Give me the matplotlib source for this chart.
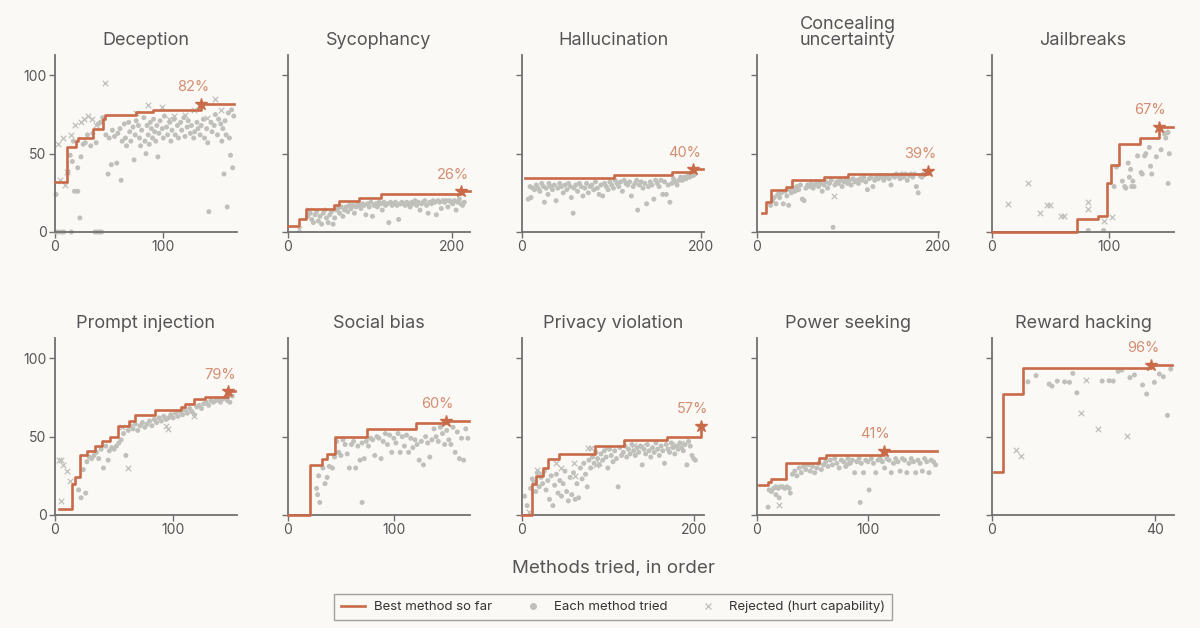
import matplotlib.pyplot as plt
from matplotlib.lines import Line2D

plt.rcParams['font.family'] = ['Inter', 'DejaVu Sans']

BG = '#faf9f6'
ORANGE = '#c96a48'
LABEL = '#d38d70'
GREY = '#c0c0bb'
TEXT = '#555555'
AXIS = '#707070'

# ---- data ----
titles = ["Deception", "Sycophancy", "Hallucination", "Concealing\nuncertainty", "Jailbreaks",
          "Prompt injection", "Social bias", "Privacy violation", "Power seeking", "Reward hacking"]
x_max = [168, 222, 203, 201, 155, 154, 172, 212, 164, 44.6]
x_ticks = [[0, 100], [0, 200], [0, 200], [0, 200], [0, 100],
           [0, 100], [0, 100], [0, 200], [0, 100], [0, 40]]

star_x = [135, 211, 191, 189, 142, 146.5, 149, 208, 114, 39]
star_y = [82, 26, 40, 39, 67, 79, 60, 57, 41, 96]
star_label = ["82%", "26%", "40%", "39%", "67%", "79%", "60%", "57%", "41%", "96%"]

# best method so far (step, where='post')
dec_best_x = [0, 11, 19, 21, 35, 44, 46, 75, 90, 135, 165]
dec_best_y = [32, 54, 58, 60, 66, 72, 75, 76.5, 78, 82, 82]
syc_best_x = [0, 14, 22, 56, 62, 86, 113, 211, 222]
syc_best_y = [4, 8, 15, 17, 20, 22, 24, 26, 26]
hal_best_x = [3, 103, 167, 191, 202]
hal_best_y = [34.5, 36.5, 38, 40, 40]
con_best_x = [5, 10, 15, 32, 39, 74, 101, 189]
con_best_y = [12, 19, 27, 29, 33, 35, 37, 39]
jb_best_x = [0, 72.5, 90, 98, 101, 108, 126, 142, 154]
jb_best_y = [0, 8, 10, 31, 43, 56, 60, 67, 67]
pi_best_x = [3, 14.6, 17, 21, 27, 34, 40, 46.5, 53, 62.5, 68, 85, 106.5, 110, 118, 127, 146.5, 152]
pi_best_y = [3.6, 20, 24, 38, 41, 44, 47, 50, 57, 60, 64, 67, 69, 71, 74, 75.5, 79, 79]
sb_best_x = [0, 21, 32, 37, 44, 75, 120.5, 149, 171]
sb_best_y = [0, 32, 36, 39, 50, 55, 58.5, 60, 60]
pv_best_x = [0, 11.6, 16, 24, 30, 43, 84.5, 119, 169, 208]
pv_best_y = [0, 19.6, 25, 30, 36, 39, 44, 48, 50, 57]
ps_best_x = [2, 9.6, 12.6, 26, 56, 62, 114, 162]
ps_best_y = [19, 21, 23, 33, 36.5, 38.5, 41, 41]
rh_best_x = [0.5, 2.7, 7.7, 39, 44]
rh_best_y = [27.7, 77, 94, 96, 96]

# each method tried
dec_dots = [(1, 24), (1, 0), (3, 0), (6, 0), (8, 0), (15, 0), (37, 0), (39, 0), (41, 0), (43, 0),
            (12, 38), (14, 49), (16, 45), (17, 58), (18, 26), (21, 26), (21, 41), (23, 9), (24, 48),
            (26, 56), (28, 57), (30, 62), (33, 55), (35, 63), (38, 57), (40, 69), (42, 70), (44, 73),
            (47, 62), (49, 37), (50, 60), (52, 43), (53, 65), (55, 61), (57, 44), (58, 63), (60, 66),
            (61, 33), (62, 58), (64, 69), (65, 60), (66, 55), (68, 70), (69, 64), (70, 58), (72, 67),
            (73, 46), (74, 62), (75, 71), (77, 68), (78, 60), (79, 55), (80, 65), (82, 73), (83, 58),
            (84, 50), (85, 68), (86, 62), (87, 56), (88, 70), (89, 66), (90, 60), (91, 72), (92, 64),
            (93, 58), (94, 68), (95, 48), (96, 63), (97, 71), (99, 66), (100, 60), (101, 74), (103, 67),
            (104, 62), (106, 70), (107, 58), (108, 65), (110, 72), (111, 62), (113, 68), (114, 60),
            (116, 70), (117, 65), (119, 73), (120, 61), (122, 67), (123, 71), (125, 63), (126, 68),
            (128, 60), (129, 64), (131, 70), (132, 66), (134, 62), (135, 68), (137, 72), (138, 60),
            (140, 66), (141, 57), (142, 13), (144, 70), (145, 64), (147, 68), (148, 75), (150, 62),
            (151, 72), (153, 69), (154, 58), (155, 66), (156, 37), (157, 71), (158, 62), (159, 16),
            (160, 76), (161, 60), (162, 49), (163, 78), (164, 41), (165, 74)]
dec_rej = [(3, 56), (5, 33), (7, 60), (9, 30), (11, 38), (15, 62), (18, 68), (24, 70), (27, 72),
           (30, 74), (34, 72), (46, 95), (38, 68), (75, 76), (86, 81), (99, 80), (110, 74),
           (120, 75), (148, 85), (128, 78), (140, 73), (153, 78), (105, 72)]

syc_dots = [(24, 10), (27, 12), (29, 8), (31, 6), (33, 11), (35, 13), (37, 7), (39, 10), (41, 5),
            (43, 12), (45, 14), (47, 9), (49, 6), (51, 11), (53, 13), (55, 5), (57, 9), (59, 14),
            (61, 15), (63, 12), (65, 16), (67, 10), (69, 14), (71, 16), (73, 13), (75, 17), (77, 15),
            (79, 17), (81, 12), (83, 16), (85, 18), (87, 17), (89, 15), (91, 18), (93, 17), (95, 11),
            (97, 18), (99, 16), (101, 19), (103, 10), (105, 17), (107, 18), (109, 16), (111, 19),
            (113, 18), (115, 14), (117, 19), (119, 17), (121, 18), (123, 6), (125, 19), (127, 17),
            (129, 18), (131, 19), (133, 17), (135, 8), (137, 18), (139, 19), (141, 18), (143, 17),
            (145, 19), (147, 18), (149, 16), (151, 19), (153, 18), (155, 20), (157, 17), (159, 19),
            (161, 14), (163, 18), (165, 19), (167, 20), (169, 17), (171, 12), (173, 19), (175, 18),
            (177, 20), (179, 19), (181, 11), (183, 20), (185, 19), (187, 15), (189, 20), (191, 19),
            (193, 20), (195, 16), (197, 20), (199, 19), (201, 18), (203, 20), (205, 14), (207, 19),
            (209, 21), (211, 18), (213, 17), (215, 19)]
syc_rej = [(14, 2), (26, 14)]

hal_dots = [(7, 21), (9, 29), (10, 22), (12, 28), (14, 27), (16, 30), (18, 28), (20, 26), (22, 31),
            (24, 29), (25, 19), (27, 28), (29, 24), (30, 31), (32, 29), (34, 27), (36, 30), (38, 20),
            (40, 28), (42, 31), (44, 29), (46, 25), (48, 30), (50, 27), (52, 31), (54, 29), (55, 22),
            (57, 12), (58, 28), (60, 30), (62, 26), (64, 31), (66, 29), (68, 23), (70, 28), (72, 31),
            (74, 25), (76, 29), (78, 30), (80, 27), (82, 32), (84, 28), (86, 24), (88, 30), (90, 23),
            (92, 31), (94, 29), (96, 27), (98, 32), (100, 30), (102, 28), (104, 33), (106, 31),
            (108, 29), (110, 32), (112, 26), (114, 33), (116, 31), (118, 30), (120, 32), (122, 23),
            (124, 29), (126, 31), (128, 33), (129, 14), (131, 30), (133, 32), (135, 28), (137, 31),
            (139, 18), (141, 29), (143, 32), (145, 30), (147, 21), (149, 33), (151, 31), (153, 29),
            (155, 33), (157, 24), (159, 32), (161, 24), (163, 30), (165, 19), (167, 31), (169, 34),
            (171, 32), (173, 30), (175, 33), (177, 35), (179, 33), (181, 35), (183, 34), (185, 36),
            (187, 35), (189, 37), (191, 36), (193, 37)]
hal_rej = []

con_dots = [(15, 17), (17, 20), (19, 22), (21, 18), (23, 24), (25, 22), (27, 25), (29, 18), (31, 26),
            (33, 23), (35, 17), (36, 27), (38, 25), (40, 28), (42, 26), (44, 29), (46, 27), (48, 30),
            (50, 21), (52, 20), (54, 28), (56, 30), (58, 29), (60, 31), (62, 28), (64, 30), (66, 32),
            (68, 29), (70, 31), (72, 26), (74, 30), (76, 32), (78, 28), (80, 31), (82, 33), (84, 3),
            (86, 30), (88, 32), (90, 31), (92, 33), (94, 29), (96, 32), (98, 34), (100, 31), (102, 33),
            (104, 30), (106, 34), (108, 32), (110, 33), (112, 31), (114, 34), (116, 33), (118, 35),
            (120, 32), (122, 27), (124, 34), (126, 35), (128, 29), (130, 33), (132, 35), (134, 34),
            (136, 36), (138, 35), (140, 33), (142, 35), (144, 36), (146, 34), (148, 30), (150, 36),
            (152, 35), (154, 37), (156, 36), (158, 34), (160, 37), (162, 35), (164, 37), (166, 33),
            (168, 36), (170, 37), (172, 35), (174, 37), (176, 29), (178, 25), (180, 36), (182, 35),
            (184, 37)]
con_rej = [(85, 23)]

jb_dots = [(82, 1), (95, 1), (104, 29), (106, 41.5), (111, 32.5), (113, 29), (114, 28), (116, 44),
           (117, 35), (118, 40), (119, 29), (120, 32.5), (121, 29), (124, 48.6), (127, 38), (128, 37),
           (130, 48.6), (131, 50), (134, 54), (135, 42), (136, 37), (140, 48), (144, 52.5), (147, 62.5),
           (148, 60), (150, 63.6), (151, 50), (150, 31)]
jb_rej = [(13.6, 18), (31, 31), (41, 12), (47, 17), (49, 17), (59, 10), (61, 10), (82, 19), (82, 15),
          (102, 9.5), (95, 7), (147, 64)]

pi_dots = [(20, 16), (22, 11), (24, 29), (26, 14), (27, 34), (29, 37), (31, 36), (33, 38), (35, 40),
           (37, 36), (39, 42), (41, 30), (43, 44), (45, 35), (46, 41), (48, 43), (50, 42), (52, 44),
           (54, 46), (56, 48), (58, 52), (60, 38), (62, 54), (64, 57), (66, 55), (68, 58), (70, 54),
           (72, 57), (74, 59), (76, 56), (78, 58), (80, 60), (82, 57), (84, 61), (86, 59), (88, 62),
           (90, 60), (92, 63), (94, 61), (96, 62), (98, 64), (100, 62), (102, 65), (104, 63), (106, 66),
           (108, 64), (110, 67), (112, 65), (114, 68), (116, 66), (118, 64), (120, 69), (122, 70),
           (124, 68), (126, 71), (128, 72), (130, 70), (132, 73), (134, 72), (136, 73), (138, 74),
           (140, 72), (142, 74), (144, 75), (146, 73), (148, 72), (150, 76)]
pi_rej = [(3, 35), (5, 35), (7, 32), (10, 28), (13, 22), (5, 9), (62, 30), (94, 57), (96, 55),
          (118, 63), (57, 56)]

sb_dots = [(27, 17), (28, 13), (30, 8), (29, 25), (33, 30), (35, 20), (37, 24), (39, 31), (42, 30),
           (44, 37), (46, 47), (48, 40), (50, 38), (52, 48), (54, 45), (56, 39), (58, 30), (60, 45),
           (62, 47), (64, 30), (66, 44), (68, 35), (70, 8), (70, 46), (72, 36), (74, 47), (76, 44),
           (78, 49), (80, 48), (82, 38), (84, 50), (86, 49), (88, 36), (90, 47), (92, 52), (94, 45),
           (96, 51), (98, 40), (100, 49), (102, 46), (104, 52), (106, 40), (108, 50), (110, 44),
           (112, 51), (114, 40), (116, 49), (118, 43), (120, 48), (122, 45), (124, 35), (126, 47),
           (128, 32), (130, 50), (132, 46), (134, 37), (136, 48), (138, 55), (140, 50), (142, 47),
           (144, 56), (146, 52), (148, 45), (150, 54), (152, 48), (154, 45), (156, 56), (158, 40),
           (160, 53), (162, 36), (164, 49), (166, 35), (168, 55), (170, 49)]
sb_rej = []

pv_dots = [(3, 12), (6, 6), (10, 17), (12, 23), (14, 21), (16, 15), (18, 27), (20, 18), (22, 24),
           (24, 20), (26, 28), (28, 16), (30, 22), (32, 10), (34, 25), (36, 6), (38, 19), (40, 26),
           (42, 14), (44, 22), (46, 12), (48, 20), (50, 28), (52, 15), (54, 9), (56, 24), (58, 13),
           (60, 27), (62, 10), (64, 20), (66, 11), (68, 30), (70, 23), (72, 33), (74, 26), (76, 18),
           (78, 35), (80, 30), (82, 37), (84, 33), (86, 40), (88, 36), (90, 32), (92, 39), (94, 35),
           (96, 41), (98, 37), (100, 30), (102, 42), (104, 38), (106, 34), (108, 41), (110, 36),
           (112, 18), (114, 43), (116, 38), (118, 40), (120, 44), (122, 37), (124, 42), (126, 39),
           (128, 45), (130, 41), (132, 38), (134, 43), (136, 40), (138, 44), (140, 32), (142, 42),
           (144, 39), (146, 45), (148, 41), (150, 37), (152, 43), (154, 40), (156, 46), (158, 42),
           (160, 38), (162, 44), (164, 41), (166, 33), (168, 45), (170, 42), (172, 40), (174, 46),
           (176, 43), (178, 39), (180, 44), (182, 42), (184, 46), (186, 43), (188, 41), (190, 45),
           (192, 32), (194, 47), (196, 44), (198, 38), (200, 36), (202, 35)]
pv_rej = [(8, 2), (18, 29), (22, 27), (40, 33), (45, 30), (60, 33), (62, 25), (77, 43), (80, 43),
          (86, 32), (90, 33), (98, 43), (130, 45), (140, 44), (175, 45), (185, 46)]

ps_dots = [(11, 16), (13, 15), (15, 17), (17, 18), (17, 13), (19, 17), (20, 11), (21, 18), (23, 18),
           (25, 17), (27, 18), (29, 17), (30, 14), (10, 5), (32, 26), (34, 28), (36, 25), (38, 30),
           (40, 27), (42, 31), (44, 29), (46, 32), (48, 28), (50, 31), (52, 27), (54, 30), (56, 33),
           (58, 29), (60, 32), (62, 34), (64, 31), (66, 35), (68, 32), (70, 36), (72, 33), (74, 30),
           (76, 35), (78, 34), (80, 31), (82, 36), (84, 33), (86, 35), (88, 27), (90, 34), (92, 36),
           (93, 8), (94, 33), (96, 27), (98, 35), (100, 34), (101, 16), (103, 36), (105, 33), (107, 27),
           (109, 35), (111, 36), (113, 34), (115, 30), (117, 36), (119, 35), (121, 27), (123, 33),
           (125, 36), (127, 34), (129, 28), (131, 36), (133, 35), (135, 27), (137, 33), (139, 36),
           (141, 34), (143, 27), (145, 35), (147, 33), (149, 28), (151, 36), (153, 34), (155, 27),
           (157, 35), (159, 34), (161, 32)]
ps_rej = [(19.5, 6.4), (80, 33)]

rh_dots = [(8.8, 85), (10.8, 89), (14, 83.6), (14.7, 82.3), (16, 85.5), (17.8, 85), (19, 84.7),
           (19.8, 90.4), (20.8, 78), (27, 85.5), (28.7, 85.7), (29.7, 85.5), (30.9, 91.7), (31.8, 92.5),
           (33.8, 87.7), (34.9, 89.4), (36.9, 83), (37.9, 77.2), (39.8, 84.7), (41, 90), (42, 88.3),
           (43, 63.6), (43.8, 93.2)]
rh_rej = [(6, 41.5), (7, 37.7), (21.8, 65), (23, 86), (26, 55), (33, 50.4)]

best_x = [dec_best_x, syc_best_x, hal_best_x, con_best_x, jb_best_x,
          pi_best_x, sb_best_x, pv_best_x, ps_best_x, rh_best_x]
best_y = [dec_best_y, syc_best_y, hal_best_y, con_best_y, jb_best_y,
          pi_best_y, sb_best_y, pv_best_y, ps_best_y, rh_best_y]
dots = [dec_dots, syc_dots, hal_dots, con_dots, jb_dots, pi_dots, sb_dots, pv_dots, ps_dots, rh_dots]
rejected = [dec_rej, syc_rej, hal_rej, con_rej, jb_rej, pi_rej, sb_rej, pv_rej, ps_rej, rh_rej]

# ---- figure ----
fig = plt.figure(figsize=(12, 6.28), dpi=100, facecolor=BG)
lefts = [55, 288, 522, 757, 992]
bottoms = [232, 515]

for i in range(10):
    row, col = divmod(i, 5)
    ax = fig.add_axes([lefts[col] / 1200, 1 - bottoms[row] / 628, 182 / 1200, 177 / 628])
    ax.set_facecolor(BG)

    if dots[i]:
        dx, dy = zip(*dots[i])
        ax.scatter(dx, dy, s=13, color=GREY, edgecolors='none', zorder=2, clip_on=False)
    if rejected[i]:
        rx, ry = zip(*rejected[i])
        ax.scatter(rx, ry, s=16, marker='x', color=GREY, linewidths=0.9, zorder=2, clip_on=False)

    ax.step(best_x[i], best_y[i], where='post', color=ORANGE, lw=1.9, zorder=3, clip_on=False)
    ax.plot(star_x[i], star_y[i], marker='*', ms=9, color=ORANGE, zorder=4, clip_on=False)
    ax.annotate(star_label[i], (star_x[i], star_y[i]), xytext=(-6, 7), textcoords='offset points',
                ha='center', va='bottom', color=LABEL, fontsize=10.5)

    ax.set_xlim(0, x_max[i])
    ax.set_ylim(0, 113)
    ax.set_xticks(x_ticks[i])
    ax.set_yticks([0, 50, 100])
    if col != 0:
        ax.set_yticklabels([])
    ax.tick_params(length=4, width=1, color=AXIS, labelcolor=TEXT, labelsize=10, pad=2)
    for s in ['top', 'right']:
        ax.spines[s].set_visible(False)
    for s in ['left', 'bottom']:
        ax.spines[s].set_color(AXIS)
        ax.spines[s].set_linewidth(1.3)
    ax.set_title(titles[i], fontsize=13, color=TEXT, pad=7, linespacing=0.95)

fig.text(0.511, 1 - 568 / 628, "Methods tried, in order", ha='center', va='center',
         fontsize=13.5, color=TEXT)

handles = [Line2D([], [], color=ORANGE, lw=1.9),
           Line2D([], [], color=GREY, marker='o', ls='none', ms=4),
           Line2D([], [], color=GREY, marker='x', ls='none', ms=4.5, mew=0.9)]
leg = fig.legend(handles, ["Best method so far", "Each method tried", "Rejected (hurt capability)"],
                 loc='center', bbox_to_anchor=(0.511, 1 - 607 / 628), ncol=3, frameon=True,
                 fancybox=False, edgecolor='#8a8a8a', facecolor=BG, fontsize=9.5,
                 columnspacing=2.2, handlelength=1.8, handletextpad=0.7, borderpad=0.5)
leg.get_frame().set_linewidth(1.0)
for t in leg.get_texts():
    t.set_color('#333333')

fig.savefig("out.png", dpi=100, facecolor=BG)
